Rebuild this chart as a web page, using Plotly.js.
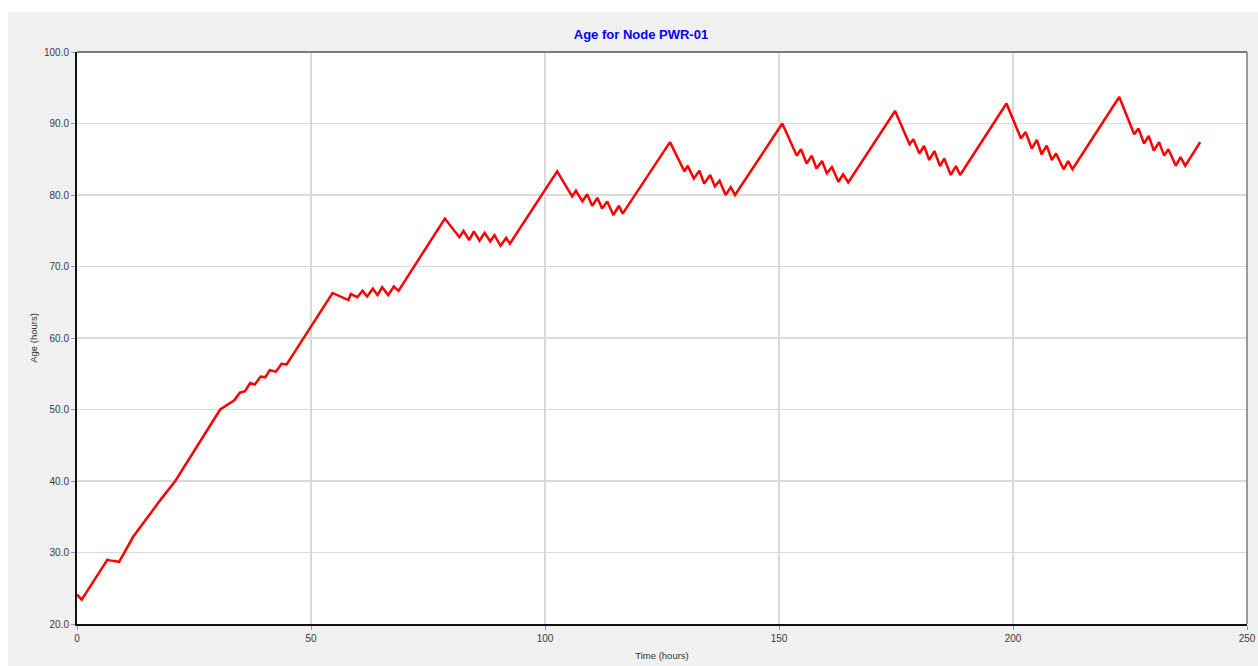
<!DOCTYPE html>
<html>
<head>
<meta charset="utf-8">
<script src="https://cdn.plot.ly/plotly-3.0.1.min.js"></script>
<style>
  html, body { margin: 0; padding: 0; background: #ffffff; width: 1258px; height: 666px; overflow: hidden; }
  #chart { position: absolute; left: 8px; top: 12px; width: 1250px; height: 654px; }
</style>
</head>
<body>
<div id="chart"></div>
<script>
// ---- Data ----
const chartTitle = "Age for Node PWR-01";
const xTitle = "Time (hours)";
const yTitle = "Age (hours)";

const timeHours = [
  0, 1, 6.5, 7, 9, 12, 18, 21, 30.6,
  33.6, 34.8, 35.9, 37.0, 38.0, 39.25, 40.2, 41.2, 42.5, 43.7, 44.8,
  54.6, 58.0, 58.5, 59.9, 61.0, 62.0, 63.2, 64.2, 65.2, 66.5, 67.7, 68.7,
  78.6, 81.7, 82.6, 83.8, 84.8, 86.0, 87.1, 88.3, 89.2, 90.5, 91.7, 92.5,
  102.6, 105.8, 106.6, 108.0, 109.0, 110.1, 111.2, 112.2, 113.3, 114.6, 115.8, 116.6,
  126.7, 129.8, 130.5, 131.8, 133.0, 134.0, 135.3, 136.3, 137.3, 138.6, 139.7, 140.6,
  150.7, 153.8, 154.7, 155.9, 157.0, 158.0, 159.2, 160.2, 161.3, 162.7, 163.7, 164.8,
  174.8, 177.9, 178.7, 180.0, 181.0, 182.1, 183.2, 184.4, 185.3, 186.7, 187.8, 188.7,
  198.6, 201.7, 202.7, 204.0, 205.1, 206.1, 207.2, 208.3, 209.2, 210.8, 211.8, 212.7,
  222.7, 225.9, 226.8, 228.0, 229.0, 230.1, 231.2, 232.3, 233.2, 234.8, 235.8, 236.8,
  240
];

const ageHours = [
  24.1, 23.4, 29.0, 28.9, 28.7, 32.2, 37.5, 40.0, 50.0,
  51.3, 52.35, 52.55, 53.7, 53.5, 54.6, 54.5, 55.5, 55.3, 56.4, 56.3,
  66.3, 65.3, 66.15, 65.7, 66.6, 65.8, 66.9, 66.0, 67.1, 66.0, 67.2, 66.6,
  76.7, 74.1, 75.0, 73.7, 74.9, 73.6, 74.7, 73.5, 74.4, 72.9, 74.0, 73.2,
  83.3, 79.8, 80.6, 79.1, 80.1, 78.5, 79.6, 78.1, 79.1, 77.2, 78.5, 77.4,
  87.4, 83.3, 84.1, 82.3, 83.4, 81.6, 82.8, 81.2, 82.0, 80.0, 81.1, 80.0,
  90.0, 85.5, 86.4, 84.4, 85.5, 83.7, 84.75, 83.05, 83.9, 81.85, 82.9, 81.75,
  91.75, 87.1, 87.8, 85.8, 86.85, 84.9, 86.15, 84.05, 85.1, 82.8, 84.05, 82.8,
  92.8, 87.9, 88.8, 86.5, 87.7, 85.7, 86.9, 84.9, 85.8, 83.6, 84.75, 83.6,
  93.7, 88.5, 89.3, 87.2, 88.25, 86.2, 87.4, 85.5, 86.4, 84.1, 85.3, 84.1,
  87.4
];

const xTickVals = [0, 50, 100, 150, 200, 250];
const yTickVals = [20, 30, 40, 50, 60, 70, 80, 90, 100];

// ---- Chart ----
const tickFont = { family: "Liberation Sans, Arial, sans-serif", size: 10, color: "#3a3a44" };

const trace = {
  x: timeHours,
  y: ageHours,
  type: "scatter",
  mode: "lines",
  line: { color: "#ff0000", width: 2.5, shape: "linear" },
  hoverinfo: "x+y"
};

const layout = {
  width: 1250,
  height: 654,
  margin: { l: 69, r: 11, t: 40, b: 42, pad: 0 },
  paper_bgcolor: "#f0f0f0",
  plot_bgcolor: "#ffffff",
  showlegend: false,
  title: {
    text: "<b>" + chartTitle + "</b>",
    font: { family: "Liberation Sans, Arial, sans-serif", size: 13, color: "#0000ff" },
    xref: "paper", x: 0.482, xanchor: "center",
    yref: "container", y: 0.965, yanchor: "middle"
  },
  xaxis: {
    range: [0, 250],
    tickvals: xTickVals,
    ticktext: xTickVals.map(String),
    showgrid: true,
    gridcolor: "#dadada",
    gridwidth: 1.5,
    zeroline: false,
    showline: true,
    linecolor: "#111111",
    linewidth: 2,
    ticks: "outside",
    ticklen: 4,
    tickcolor: "#999999",
    tickwidth: 1,
    tickfont: tickFont,
    title: { text: xTitle, font: { family: "Liberation Sans, Arial, sans-serif", size: 9.5, color: "#333333" }, standoff: 9 },
    fixedrange: true
  },
  yaxis: {
    range: [20, 100],
    tickvals: yTickVals,
    ticktext: yTickVals.map(v => v.toFixed(1)),
    showgrid: true,
    gridcolor: "#dadada",
    gridwidth: 1.5,
    zeroline: false,
    showline: true,
    linecolor: "#111111",
    linewidth: 2,
    ticks: "outside",
    ticklen: 4,
    tickcolor: "#999999",
    tickwidth: 1,
    tickfont: tickFont,
    title: { text: yTitle, font: { family: "Liberation Sans, Arial, sans-serif", size: 9.5, color: "#333333" }, standoff: 5 },
    fixedrange: true
  },
  shapes: [
    { type: "line", xref: "paper", yref: "paper", x0: 0, x1: 1, y0: 1, y1: 1, line: { color: "#7a7a7a", width: 2 } },
    { type: "line", xref: "paper", yref: "paper", x0: 1, x1: 1, y0: 0, y1: 1, line: { color: "#7a7a7a", width: 1.5 } }
  ]
};

Plotly.newPlot("chart", [trace], layout, { displayModeBar: false, staticPlot: true });
</script>
</body>
</html>
